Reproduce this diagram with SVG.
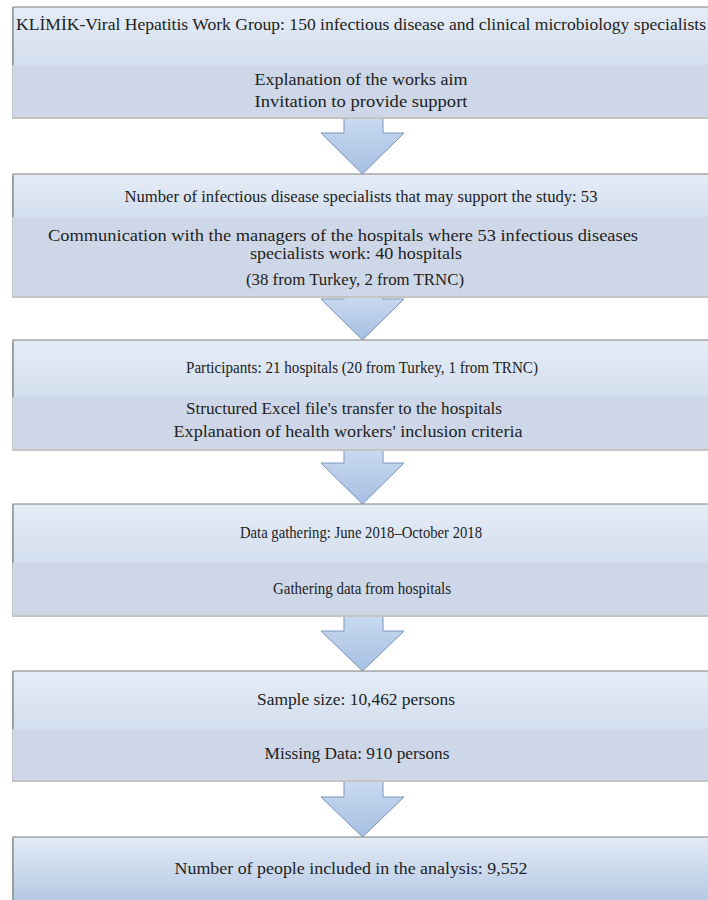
<svg xmlns="http://www.w3.org/2000/svg" width="708" height="900" viewBox="0 0 708 900">
  <style>
    text { font-family: "Liberation Serif", "DejaVu Serif", serif; font-size: 16px; fill: #222222; text-anchor: middle; }
    .top { fill: url(#topGrad); }
    .bot { fill: #cdd7e7; }
    .shadow { fill: #c4c4c4; }
    .edge { stroke: #7f7f7f; stroke-width: 1.2; fill: none; }
    .arrow { fill: url(#arrowGrad); stroke: #7a93ba; stroke-width: 1; }
  </style>
  <defs>
    <linearGradient id="topGrad" x1="0" y1="0" x2="0" y2="1">
      <stop offset="0" stop-color="#e4ecf6"/>
      <stop offset="1" stop-color="#d3deee"/>
    </linearGradient>
    <linearGradient id="lastGrad" x1="0" y1="0" x2="0" y2="1">
      <stop offset="0" stop-color="#e3ebf6"/>
      <stop offset="1" stop-color="#b5c9e4"/>
    </linearGradient>
    <linearGradient id="arrowGrad" x1="0" y1="0" x2="0" y2="1">
      <stop offset="0" stop-color="#c9daf0"/>
      <stop offset="1" stop-color="#a6bfe1"/>
    </linearGradient>
  </defs>
  <rect width="708" height="900" fill="#ffffff"/>

  <g id="connectors">
    <path class="arrow" d="M344,117 L383,117 L383,133 L404,133 L362.5,174 L321,133 L344,133 Z"/>
    <path class="arrow" d="M344,296 L383,296 L383,299 L404,299 L362.5,340 L321,299 L344,299 Z"/>
    <path class="arrow" d="M344,449 L383,449 L383,463 L404,463 L362.5,504 L321,463 L344,463 Z"/>
    <path class="arrow" d="M344,615 L383,615 L383,631 L404,631 L362.5,671 L321,631 L344,631 Z"/>
    <path class="arrow" d="M344,780 L383,780 L383,797 L404,797 L362.5,837 L321,797 L344,797 Z"/>
  </g>

  <g id="box1">
    <rect class="shadow" x="12" y="9" width="700" height="110"/>
    <rect class="top" x="13" y="7" width="700" height="58"/>
    <rect class="bot" x="13" y="65" width="700" height="52"/>
    <path class="edge" d="M13,65 L13,7 L708,7"/>
    <text x="361" y="30" textLength="690" lengthAdjust="spacingAndGlyphs">KLİMİK-Viral Hepatitis Work Group: 150 infectious disease and clinical microbiology specialists</text>
    <text x="361" y="85" textLength="213" lengthAdjust="spacingAndGlyphs">Explanation of the works aim</text>
    <text x="361" y="107" textLength="213" lengthAdjust="spacingAndGlyphs">Invitation to provide support</text>
  </g>

  <g id="box2">
    <rect class="shadow" x="12" y="176" width="700" height="122"/>
    <rect class="top" x="13" y="174" width="700" height="43"/>
    <rect class="bot" x="13" y="217" width="700" height="79"/>
    <path class="edge" d="M13,217 L13,174 L708,174"/>
    <text x="361" y="202" textLength="473" lengthAdjust="spacingAndGlyphs">Number of infectious disease specialists that may support the study: 53</text>
    <text x="343" y="241" textLength="590" lengthAdjust="spacingAndGlyphs">Communication with the managers of the hospitals where 53 infectious diseases</text>
    <text x="356" y="259" textLength="212" lengthAdjust="spacingAndGlyphs">specialists work: 40 hospitals</text>
    <text x="355" y="285" textLength="218" lengthAdjust="spacingAndGlyphs">(38 from Turkey, 2 from TRNC)</text>
  </g>

  <g id="box3">
    <rect class="shadow" x="12" y="342" width="700" height="109"/>
    <rect class="top" x="13" y="340" width="700" height="57"/>
    <rect class="bot" x="13" y="397" width="700" height="52"/>
    <path class="edge" d="M13,397 L13,340 L708,340"/>
    <text x="362" y="373" textLength="352" lengthAdjust="spacingAndGlyphs">Participants: 21 hospitals (20 from Turkey, 1 from TRNC)</text>
    <text x="344" y="414" textLength="316" lengthAdjust="spacingAndGlyphs">Structured Excel file's transfer to the hospitals</text>
    <text x="348" y="437" textLength="349" lengthAdjust="spacingAndGlyphs">Explanation of health workers' inclusion criteria</text>
  </g>

  <g id="box4">
    <rect class="shadow" x="12" y="506" width="700" height="111"/>
    <rect class="top" x="13" y="504" width="700" height="59"/>
    <rect class="bot" x="13" y="563" width="700" height="52"/>
    <path class="edge" d="M13,563 L13,504 L708,504"/>
    <text x="361" y="538" textLength="242" lengthAdjust="spacingAndGlyphs">Data gathering: June 2018–October 2018</text>
    <text x="362" y="594" textLength="178" lengthAdjust="spacingAndGlyphs">Gathering data from hospitals</text>
  </g>

  <g id="box5">
    <rect class="shadow" x="12" y="673" width="700" height="109"/>
    <rect class="top" x="13" y="671" width="700" height="58"/>
    <rect class="bot" x="13" y="729" width="700" height="51"/>
    <path class="edge" d="M13,729 L13,671 L708,671"/>
    <text x="356" y="705" textLength="198" lengthAdjust="spacingAndGlyphs">Sample size: 10,462 persons</text>
    <text x="357" y="759" textLength="185" lengthAdjust="spacingAndGlyphs">Missing Data: 910 persons</text>
  </g>

  <g id="box6">
    <rect class="shadow" x="12" y="839" width="700" height="61"/>
    <rect x="13" y="837" width="700" height="63" fill="url(#lastGrad)"/>
    <path class="edge" d="M13,900 L13,837 L708,837"/>
    <text x="351" y="874" textLength="353" lengthAdjust="spacingAndGlyphs">Number of people included in the analysis: 9,552</text>
  </g>
</svg>
